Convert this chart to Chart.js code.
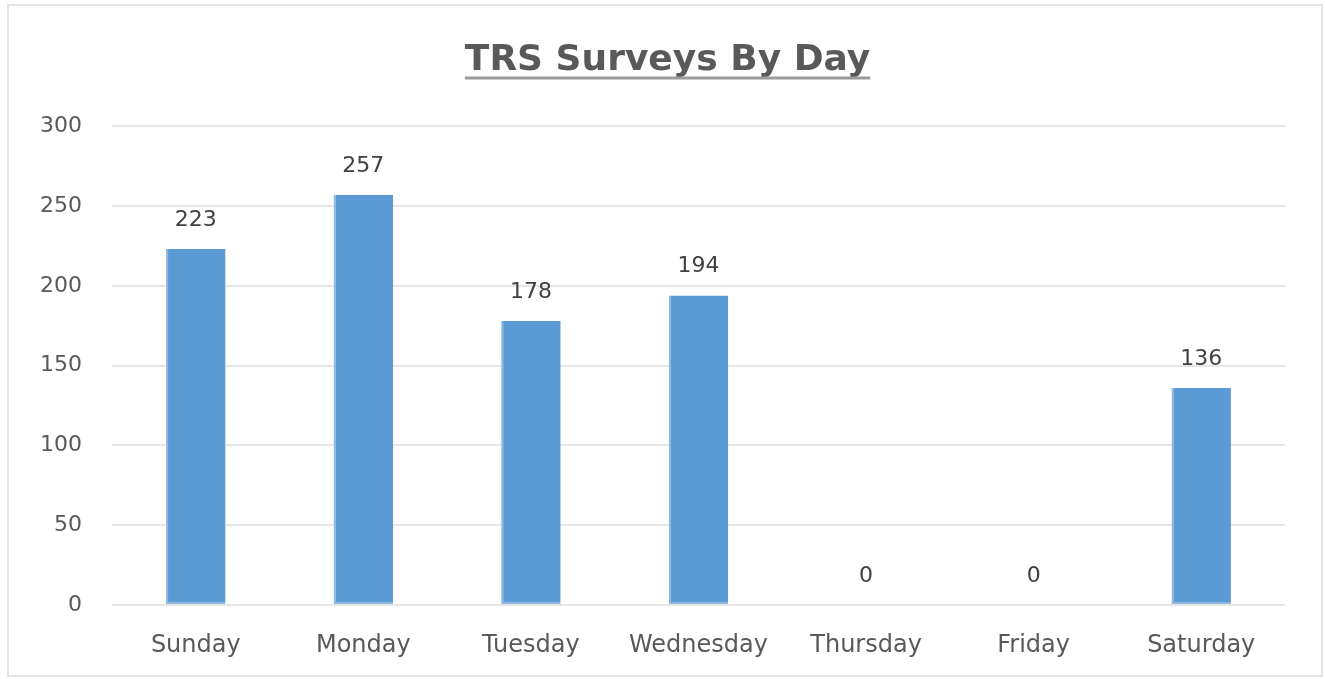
<!DOCTYPE html>
<html>
<head>
<meta charset="utf-8">
<script src="https://cdn.jsdelivr.net/npm/chart.js@4"></script>
<style>
  html, body { margin: 0; padding: 0; background: #fff; }
  #wrap { position: relative; width: 1325px; height: 679px; }
  #frame {
    position: absolute; left: 7px; top: 4px; width: 1312px; height: 669px;
    border: 2px solid #e3e3e3; pointer-events: none;
  }
</style>
</head>
<body>
<div id="wrap">
  <canvas id="myChart" width="1325" height="679"></canvas>
  <div id="frame"></div>
</div>
<script>
const days = ['Sunday', 'Monday', 'Tuesday', 'Wednesday', 'Thursday', 'Friday', 'Saturday']
const surveys = [223, 257, 178, 194, 0, 0, 136]
const yTicks = [0, 50, 100, 150, 200, 250, 300]

const barColor = '#5b9bd5'
const textColor = '#595959'
const fontFamily = "'DejaVu Sans', sans-serif"
const titleFont = 'bold 36px ' + fontFamily

// value labels above each bar
const barLabels = {
    id: 'barLabels',
    afterDatasetsDraw(chart) {
        const ctx = chart.ctx
        const meta = chart.getDatasetMeta(0)
        ctx.save()
        ctx.fillStyle = '#404040'
        ctx.font = '22px ' + fontFamily
        ctx.textAlign = 'center'
        ctx.textBaseline = 'middle'
        meta.data.forEach((bar, i) => {
            ctx.fillText(String(surveys[i]), bar.x, bar.y - 29)
        })
        ctx.restore()
    }
}

// nudge the title to the middle of the frame and underline it
const titleUnderline = {
    id: 'titleUnderline',
    afterLayout(chart) {
        const t = chart.titleBlock
        if (!t) return
        t.left += 20
        t.right += 20
    },
    afterDraw(chart) {
        const t = chart.titleBlock
        if (!t) return
        const ctx = chart.ctx
        ctx.save()
        ctx.font = titleFont
        const w = ctx.measureText(chart.options.plugins.title.text).width
        const cx = (t.left + t.right) / 2
        ctx.strokeStyle = '#9a9a9a'
        ctx.lineWidth = 3
        ctx.beginPath()
        ctx.moveTo(cx - w / 2, 78)
        ctx.lineTo(cx + w / 2, 78)
        ctx.stroke()
        ctx.restore()
    }
}

const ctx = document.getElementById('myChart')

new Chart(ctx, {
    type: 'bar',
    data: {
        labels: days,
        datasets: [{
            label: 'Surveys',
            data: surveys,
            backgroundColor: barColor,
            borderColor: '#8fb8e0',
            borderWidth: { left: 2, bottom: 2 },
            borderSkipped: false,
            categoryPercentage: 1,
            barPercentage: 0.355
        }]
    },
    options: {
        responsive: false,
        animation: false,
        layout: {
            padding: { left: 10, right: 40, top: 0, bottom: 0 }
        },
        plugins: {
            legend: { display: false },
            tooltip: { enabled: false },
            title: {
                display: true,
                text: 'TRS Surveys By Day',
                color: textColor,
                font: { family: fontFamily, size: 36, weight: 'bold', lineHeight: 1.2 },
                padding: { top: 39, bottom: 44 }
            }
        },
        scales: {
            x: {
                afterFit(scale) { scale.height = 74 },
                grid: { display: false, drawTicks: false },
                border: { display: false },
                ticks: {
                    color: textColor,
                    padding: 26,
                    font: { family: fontFamily, size: 24 }
                }
            },
            y: {
                min: 0,
                max: 300,
                afterFit(scale) { scale.width = 102 },
                afterBuildTicks(scale) { scale.ticks = yTicks.map(v => ({ value: v })) },
                grid: { color: '#e6e6e6', lineWidth: 2, drawTicks: false },
                border: { display: false },
                ticks: {
                    color: textColor,
                    padding: 30,
                    font: { family: fontFamily, size: 22 }
                }
            }
        }
    },
    plugins: [barLabels, titleUnderline]
})
</script>
</body>
</html>
